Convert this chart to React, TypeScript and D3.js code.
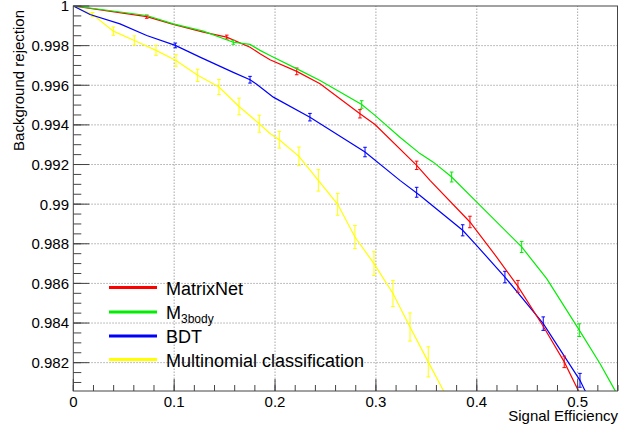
import React from "react";
import * as d3 from "d3";

// ---- data ----
const matrixNetX = [0, 0.0728, 0.0991, 0.1289, 0.1521, 0.1752, 0.1851, 0.195, 0.2215, 0.2446, 0.2842, 0.2991, 0.3404, 0.3536, 0.3932, 0.4197, 0.4408, 0.4657, 0.4867, 0.5006, 0.503];
const matrixNetY = [1.0, 0.99946, 0.99907, 0.99868, 0.99843, 0.99792, 0.99759, 0.99729, 0.9967, 0.99608, 0.99456, 0.99402, 0.99196, 0.9912, 0.9891, 0.98733, 0.98585, 0.98385, 0.98204, 0.9806, 0.9804];
const matrixNetErrX = [0.0728, 0.1521, 0.2215, 0.2842, 0.3404, 0.3932, 0.4408, 0.4867];
const matrixNetErrY = [0.99946, 0.99843, 0.9967, 0.99456, 0.99196, 0.9891, 0.98585, 0.98204];
const matrixNetErr = [0.00008, 0.0001, 0.00017, 0.00021, 0.00021, 0.00029, 0.0003, 0.00029];

const m3bodyX = [0, 0.0297, 0.0728, 0.0991, 0.1289, 0.1586, 0.1752, 0.1851, 0.195, 0.2247, 0.2446, 0.2859, 0.2991, 0.3238, 0.3437, 0.3569, 0.3751, 0.4015, 0.4445, 0.4693, 0.5016, 0.5221, 0.537, 0.54];
const m3bodyY = [1.0, 0.99981, 0.99952, 0.9991, 0.99873, 0.99817, 0.99806, 0.99776, 0.9975, 0.99675, 0.99624, 0.99503, 0.99448, 0.99338, 0.99255, 0.99212, 0.99137, 0.99003, 0.98784, 0.98624, 0.98364, 0.98196, 0.9806, 0.98035];
const m3bodyErrX = [0.1586, 0.2859, 0.3751, 0.4445, 0.5016];
const m3bodyErrY = [0.99817, 0.99503, 0.99137, 0.98784, 0.98364];
const m3bodyErr = [0.0001, 0.00019, 0.00025, 0.00028, 0.00032];

const bdtX = [0, 0.0166, 0.0463, 0.0728, 0.1011, 0.1256, 0.1586, 0.1752, 0.1818, 0.1983, 0.2346, 0.2892, 0.3238, 0.3437, 0.386, 0.3982, 0.4279, 0.4659, 0.5023, 0.5072, 0.51];
const bdtY = [1.0, 0.99957, 0.9991, 0.99851, 0.99801, 0.99742, 0.99665, 0.99628, 0.99605, 0.9954, 0.99439, 0.99263, 0.9912, 0.99044, 0.98868, 0.98801, 0.98632, 0.98397, 0.98111, 0.9806, 0.98035];
const bdtErrX = [0.1011, 0.1752, 0.2346, 0.2892, 0.3404, 0.386, 0.4279, 0.4659, 0.5023];
const bdtErrY = [0.99801, 0.99628, 0.99439, 0.99263, 0.9906, 0.98868, 0.98632, 0.98397, 0.98111];
const bdtErr = [0.00012, 0.00017, 0.00019, 0.00024, 0.00025, 0.00028, 0.00029, 0.00034, 0.00035];

const multiX = [0, 0.0099, 0.0192, 0.0397, 0.0605, 0.082, 0.1018, 0.1233, 0.1444, 0.1643, 0.1844, 0.195, 0.2042, 0.2237, 0.2429, 0.2621, 0.2792, 0.2981, 0.3169, 0.3338, 0.3519, 0.3668, 0.37];
const multiY = [1.0, 0.99977, 0.99957, 0.99873, 0.99826, 0.99776, 0.99725, 0.9965, 0.99591, 0.99493, 0.99406, 0.99357, 0.99325, 0.99241, 0.9912, 0.98999, 0.98834, 0.987, 0.98549, 0.9838, 0.98204, 0.9806, 0.9804];
const multiErrX = [0.0192, 0.0397, 0.0605, 0.082, 0.1018, 0.1233, 0.1444, 0.1643, 0.1844, 0.2042, 0.2237, 0.2429, 0.2621, 0.2792, 0.2981, 0.3169, 0.3338, 0.3519];
const multiErrY = [0.99957, 0.99873, 0.99826, 0.99776, 0.99725, 0.9965, 0.99591, 0.99493, 0.99406, 0.99325, 0.99241, 0.9912, 0.98999, 0.98834, 0.987, 0.98549, 0.9838, 0.98204];
const multiErr = [0.0001, 0.00021, 0.00023, 0.00025, 0.00029, 0.00031, 0.00038, 0.00042, 0.00043, 0.00042, 0.00047, 0.00054, 0.00055, 0.00058, 0.0006, 0.00066, 0.00071, 0.00076];

const xTicks = [0, 0.1, 0.2, 0.3, 0.4, 0.5];
const xTickLabels = ["0", "0.1", "0.2", "0.3", "0.4", "0.5"];
const yTicks = [0.982, 0.984, 0.986, 0.988, 0.99, 0.992, 0.994, 0.996, 0.998, 1.0];
const yTickLabels = ["0.982", "0.984", "0.986", "0.988", "0.99", "0.992", "0.994", "0.996", "0.998", "1"];
const xMinorTicks = d3.range(0, 0.545, 0.02);
const yMinorTicks = d3.range(0.981, 1.0001, 0.0005);

const seriesNames = ["MatrixNet", "M3body", "BDT", "Multinomial classification"];
const seriesColors = ["#ff0000", "#00ee00", "#0000ff", "#ffff00"];

const W = 619;
const H = 427;
const FONT = "'Liberation Sans', Arial, Helvetica, sans-serif";

export default function App() {
  const x = d3.scaleLinear().domain([0, 0.5395]).range([73.3, 617.5]);
  const y = d3.scaleLinear().domain([0.98057, 1.0]).range([391, 6]);
  const [x0, x1] = x.range();
  const [yb, yt] = y.range();

  const series = [
    { xs: matrixNetX, ys: matrixNetY, ex: matrixNetErrX, ey: matrixNetErrY, ee: matrixNetErr },
    { xs: m3bodyX, ys: m3bodyY, ex: m3bodyErrX, ey: m3bodyErrY, ee: m3bodyErr },
    { xs: bdtX, ys: bdtY, ex: bdtErrX, ey: bdtErrY, ee: bdtErr },
    { xs: multiX, ys: multiY, ex: multiErrX, ey: multiErrY, ee: multiErr },
  ];
  const line = d3
    .line<[number, number]>()
    .x((d) => x(d[0]))
    .y((d) => y(d[1]));

  const drawOrder = [3, 2, 0, 1];
  const legendY = [287.5, 312, 336, 359.5];

  return (
    <svg
      width={W}
      height={H}
      style={{ position: "absolute", left: 0, top: 0, background: "#fff" }}
      fontFamily={FONT}
    >
      <defs>
        <clipPath id="plotclip">
          <rect x={x0} y={yt} width={x1 - x0} height={yb - yt} />
        </clipPath>
      </defs>
      <rect x={0} y={0} width={W} height={H} fill="#fff" />
      {/* grid */}
      {xTicks.slice(1).map((t) => (
        <line key={"gx" + t} x1={x(t)} x2={x(t)} y1={yb} y2={yt} stroke="#a8a8a8" strokeDasharray="1.5 1.5" />
      ))}
      {yTicks.slice(0, -1).map((t) => (
        <line key={"gy" + t} x1={x0} x2={x1} y1={y(t)} y2={y(t)} stroke="#a8a8a8" strokeDasharray="1.5 1.5" />
      ))}
      {/* curves */}
      <g clipPath="url(#plotclip)">
        {drawOrder.map((i) => {
          const s = series[i];
          const pts: [number, number][] = s.xs.map((v, k) => [v, s.ys[k]]);
          return (
            <g key={"s" + i}>
              <path d={line(pts) || ""} fill="none" stroke={seriesColors[i]} strokeWidth={1.2} />
              {s.ex.map((ex, k) => {
                const cx = x(ex);
                const ya = y(s.ey[k] + s.ee[k]);
                const yb2 = y(s.ey[k] - s.ee[k]);
                return (
                  <g key={"e" + k} stroke={seriesColors[i]} strokeWidth={1}>
                    <line x1={cx} x2={cx} y1={ya} y2={yb2} />
                    <line x1={cx - 1.8} x2={cx + 1.8} y1={ya} y2={ya} />
                    <line x1={cx - 1.8} x2={cx + 1.8} y1={yb2} y2={yb2} />
                  </g>
                );
              })}
            </g>
          );
        })}
      </g>
      {/* frame */}
      <rect x={x0} y={yt} width={x1 - x0} height={yb - yt} fill="none" stroke="#444" strokeWidth={1} />
      {/* x ticks */}
      {xMinorTicks.map((t) => (
        <line key={"xm" + t} x1={x(t)} x2={x(t)} y1={yb} y2={yb - 6} stroke="#444" />
      ))}
      {xTicks.map((t) => (
        <line key={"xM" + t} x1={x(t)} x2={x(t)} y1={yb} y2={yb - 12} stroke="#444" />
      ))}
      {xTicks.map((t, i) => (
        <text key={"xl" + t} x={x(t)} y={407} fontSize={15} textAnchor="middle" fill="#000">
          {xTickLabels[i]}
        </text>
      ))}
      {/* y ticks */}
      {yMinorTicks.filter((t) => t >= 0.98057).map((t) => (
        <line key={"ym" + t} x1={x0} x2={x0 + 8} y1={y(t)} y2={y(t)} stroke="#444" />
      ))}
      {yTicks.map((t) => (
        <line key={"yM" + t} x1={x0} x2={x0 + 16} y1={y(t)} y2={y(t)} stroke="#444" />
      ))}
      {yTicks.map((t, i) => (
        <text key={"yl" + t} x={69} y={y(t) + 5.4} fontSize={15} textAnchor="end" fill="#000">
          {yTickLabels[i]}
        </text>
      ))}
      {/* axis titles */}
      <text x={618} y={421} fontSize={15} textAnchor="end" fill="#000">
        Signal Efficiency
      </text>
      <text transform="translate(24,10) rotate(-90)" fontSize={15} textAnchor="end" fill="#000">
        Background rejection
      </text>
      {/* legend */}
      {seriesNames.map((n, i) => (
        <g key={"lg" + i}>
          <line x1={109} x2={157} y1={legendY[i]} y2={legendY[i]} stroke={seriesColors[i]} strokeWidth={3} />
          {i === 1 ? (
            <text x={166} y={legendY[i] + 7} fontSize={18} fill="#000">
              M
              <tspan fontSize={12} dy={4}>
                3body
              </tspan>
            </text>
          ) : (
            <text x={166} y={legendY[i] + 7} fontSize={18} fill="#000">
              {n}
            </text>
          )}
        </g>
      ))}
    </svg>
  );
}
